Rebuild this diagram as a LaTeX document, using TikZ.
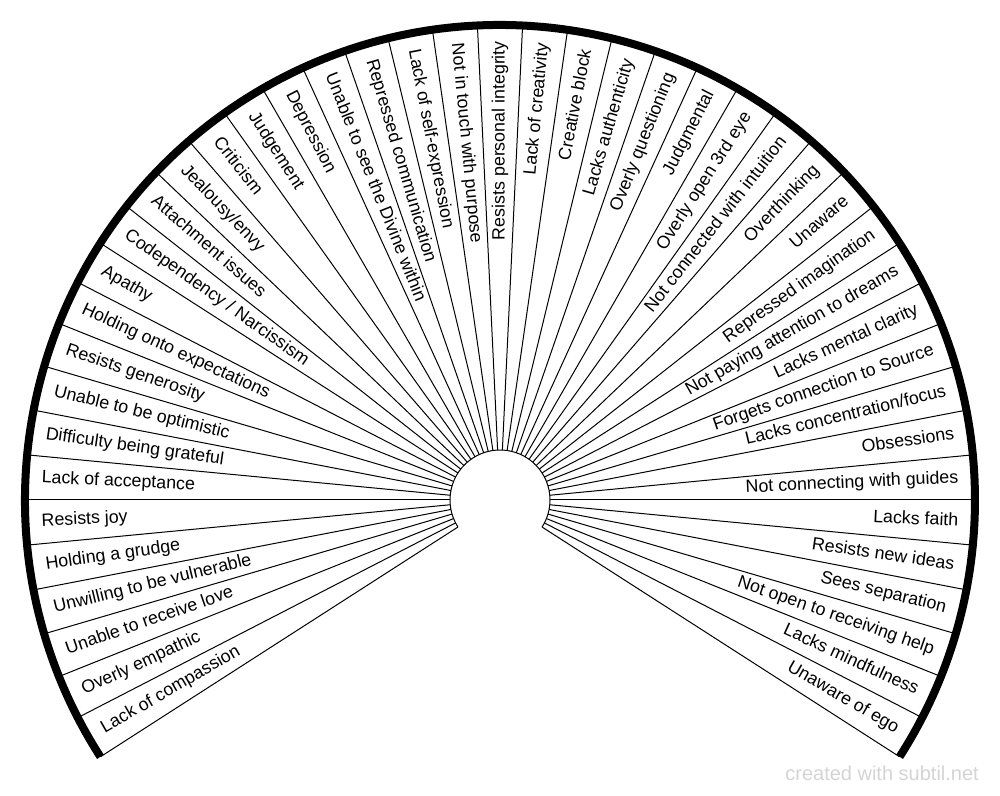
\documentclass[tikz,border=0pt]{standalone}
\usepackage{fontspec}
\setmainfont{Liberation Sans}
\usetikzlibrary{calc}
\definecolor{wm}{HTML}{D4D4D4}
\begin{document}
\begin{tikzpicture}[x=1pt,y=1pt,
  spoke/.style={line width=1pt, black},
  rim/.style={line width=8pt, black},
  hub/.style={line width=1pt, black},
  lbl/.style={font=\fontsize{17.8}{20}\selectfont, inner sep=0pt, text height=12.8pt, text depth=3.8pt},
  wmark/.style={font=\fontsize{20}{24}\selectfont, text=wm, inner sep=0pt}]
\useasboundingbox (0,0) rectangle (1000,795);
\coordinate (C) at (500,295);
\foreach \i in {0,...,45}{
  \pgfmathsetmacro\a{212.727273-\i*5.454545}
  \draw[spoke] ($(C)+(\a:50)$) -- ($(C)+(\a:475)$);
}
\draw[hub] ($(C)+(212.727273:50)$) arc[start angle=212.727273, end angle=-32.727273, radius=50];
\draw[rim] ($(C)+(212.727273:475)$) arc[start angle=212.727273, end angle=-32.727273, radius=475];
\foreach \t [count=\k] in {Lack of compassion, Overly empathic, Unable to receive love, Unwilling to be vulnerable, Holding a grudge, Resists joy, Lack of acceptance, Difficulty being grateful, Unable to be optimistic, Resists generosity, Holding onto expectations, Apathy, Codependency / Narcissism, Attachment issues, Jealousy/envy, Criticism, Judgement, Depression, Unable to see the Divine within, Repressed communication, Lack of self-expression, Not in touch with purpose, Resists personal integrity, Lack of creativity, Creative block, Lacks authenticity, Overly questioning, Judgmental, Overly open 3rd eye, Not connected with intuition, Overthinking, Unaware, Repressed imagination, Not paying attention to dreams, Lacks mental clarity, Forgets connection to Source, Lacks concentration/focus, Obsessions, Not connecting with guides, Lacks faith, Resists new ideas, Sees separation, Not open to receiving help, Lacks mindfulness, Unaware of ego}{
  \pgfmathsetmacro\m{212.727273-(\k-0.5)*5.454545}
  \ifdim\m pt>90.01pt
    \pgfmathsetmacro\r{\m-180}\def\anc{west}
  \else
    \pgfmathsetmacro\r{\m}\def\anc{east}
  \fi
  \node[lbl, rotate=\r, anchor=\anc] (l\k) at ($(C)+(\m:459)$) {\t};
}
\node[wmark, anchor=base east] (wm) at (979,15) {created with subtil.net};
\end{tikzpicture}
\end{document}
